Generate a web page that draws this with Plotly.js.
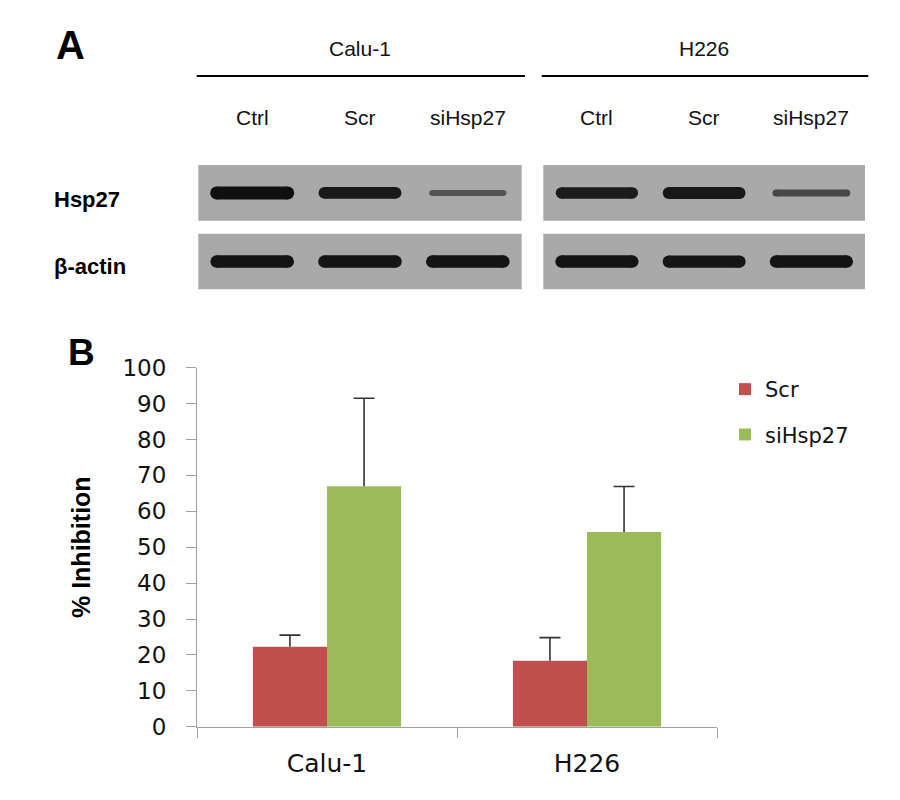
<!DOCTYPE html>
<html><head><meta charset="utf-8">
<script src="https://cdn.plot.ly/plotly-3.0.1.min.js"></script>
<style>html,body{margin:0;padding:0;background:#fff}#chart{width:900px;height:800px}</style>
</head><body><div id="chart"></div>
<script>
// ---------- Panel B data ----------
const cellLines = ['Calu-1', 'H226'];
const scrInhibition = [22.3, 18.4];
const scrError = [3.2, 6.4];
const siInhibition = [67.0, 54.2];
const siError = [24.5, 12.7];
const yTickVals = [0, 10, 20, 30, 40, 50, 60, 70, 80, 90, 100];

// ---------- Panel A data (relative band density per lane) ----------
const laneLabels = ['Ctrl', 'Scr', 'siHsp27'];
const blotRows = ['β-actin', 'Hsp27'];
const caluHsp27 = [1.0, 0.88, 0.3];
const caluActin = [0.95, 0.95, 0.95];
const h226Hsp27 = [0.85, 0.9, 0.4];
const h226Actin = [0.95, 0.92, 0.95];

const W = 900, H = 800;
const px = p => p / W;
const py = p => 1 - p / H;

const RED = '#c0504d', GREEN = '#9bbb59';
const AXC = '#a0a0a0';
const BARW = 0.285;

const traces = [];

traces.push({type: 'bar', name: 'Scr', x: cellLines, y: scrInhibition, width: BARW, offset: -BARW,
  marker: {color: RED}, legendgroup: 'a'});
traces.push({type: 'bar', name: 'siHsp27', x: cellLines, y: siInhibition, width: BARW, offset: 0,
  marker: {color: GREEN}, legendgroup: 'b'});

// upper (plus-only) error bars, drawn on an overlaid numeric axis matching the category axis
function errorBars(vals, errs, shift) {
  const xs = [], ys = [];
  vals.forEach((v, i) => { xs.push(i + shift, i + shift, null); ys.push(v, v + errs[i], null); });
  traces.push({type: 'scatter', mode: 'lines', x: xs, y: ys, xaxis: 'x4', yaxis: 'y3',
    line: {color: '#333333', width: 1.6}, showlegend: false, hoverinfo: 'skip'});
  traces.push({type: 'scatter', mode: 'markers', x: vals.map((v, i) => i + shift),
    y: vals.map((v, i) => v + errs[i]), xaxis: 'x4', yaxis: 'y3',
    marker: {symbol: 'line-ew', size: 15, color: '#333333', line: {color: '#333333', width: 1.6}},
    showlegend: false, hoverinfo: 'skip'});
}
errorBars(scrInhibition, scrError, -BARW / 2);
errorBars(siInhibition, siError, BARW / 2);

// blot bands
function bands(xa, rowIdx, dens) {
  dens.forEach((d, i) => {
    const t = 3 + 10 * d;
    const g = Math.round(166 - 150 * Math.sqrt(d));
    const c = `rgb(${g},${g},${g})`;
    traces.push({
      type: 'scatter', mode: 'lines+markers', xaxis: xa, yaxis: 'y2',
      x: [i + 1 - 0.33, i + 1 + 0.33], y: [rowIdx, rowIdx],
      line: {color: c, width: t}, marker: {color: c, size: t, line: {width: 0}},
      showlegend: false, hoverinfo: 'skip', cliponaxis: false
    });
  });
}
bands('x2', 1, caluHsp27);
bands('x2', 0, caluActin);
bands('x3', 1, h226Hsp27);
bands('x3', 0, h226Actin);

const shapes = [];
['x2', 'x3'].forEach(xa => {
  blotRows.forEach((r, ri) => {
    shapes.push({type: 'rect', xref: xa + ' domain', x0: 0, x1: 1, yref: 'y2',
      y0: ri - 0.407, y1: ri + 0.407, fillcolor: '#a9a9a9', line: {width: 0}, layer: 'below'});
  });
  shapes.push({type: 'line', xref: xa + ' domain', x0: -0.005, x1: 1.01, yref: 'paper',
    y0: py(76), y1: py(76), line: {color: '#000', width: 2}});
});

const annotations = [];
const fA = {family: 'Liberation Sans, Arial, sans-serif', size: 21, color: '#111'};
const fBold = s => ({family: 'Liberation Sans, Arial, sans-serif', size: s, weight: 'bold', color: '#000'});
annotations.push({text: 'A', x: px(70), y: py(45), xref: 'paper', yref: 'paper', xanchor: 'center',
  yanchor: 'middle', showarrow: false, font: fBold(40)});
annotations.push({text: 'B', x: px(81), y: py(353), xref: 'paper', yref: 'paper', xanchor: 'center',
  yanchor: 'middle', showarrow: false, font: fBold(37)});
[['x2', cellLines[0]], ['x3', cellLines[1]]].forEach(([xa, name]) => {
  annotations.push({text: name, xref: xa + ' domain', x: 0.5, xanchor: 'center', yref: 'paper', y: py(48),
    yanchor: 'middle', showarrow: false, font: fA});
  laneLabels.forEach((l, i) => {
    annotations.push({text: l, xref: xa, x: i + 1, xanchor: 'center', yref: 'paper', y: py(117),
      yanchor: 'middle', showarrow: false, font: fA});
  });
});
const rowLabelY = [266, 199];
blotRows.forEach((r, ri) => {
  annotations.push({text: r, xref: 'paper', x: px(52), xanchor: 'left', yref: 'paper', y: py(rowLabelY[ri]),
    yanchor: 'middle', showarrow: false, font: fBold(22)});
});

const layout = {
  width: W, height: H,
  margin: {l: 0, r: 0, t: 0, b: 0},
  paper_bgcolor: '#fff', plot_bgcolor: 'rgba(0,0,0,0)',
  font: {family: 'DejaVu Sans, sans-serif', color: '#111'},
  barmode: 'overlay',
  showlegend: true,
  legend: {x: px(725), y: py(369), xanchor: 'left', yanchor: 'top',
    font: {family: 'DejaVu Sans, sans-serif', size: 21, color: '#111'},
    traceorder: 'grouped', tracegroupgap: 15, bgcolor: 'rgba(0,0,0,0)'},
  xaxis: {domain: [px(197), px(717)], type: 'category', range: [-0.5, 1.5],
    tickson: 'boundaries', ticks: 'outside', ticklen: 10, tickcolor: AXC,
    showline: true, linecolor: AXC, linewidth: 1, showgrid: false, zeroline: false,
    tickfont: {family: 'DejaVu Sans, sans-serif', size: 25, color: '#111'},
    ticklabelstandoff: 14, anchor: 'y', fixedrange: true},
  yaxis: {domain: [py(726.7), py(367.7)], range: [0, 100], tickvals: yTickVals,
    ticks: 'outside', ticklen: 10, tickcolor: AXC, showline: true, linecolor: AXC,
    linewidth: 1, showgrid: false, zeroline: false,
    tickfont: {family: 'DejaVu Sans, sans-serif', size: 23, color: '#111'},
    ticklabelstandoff: 15, anchor: 'x', fixedrange: true,
    title: {text: '% Inhibition', standoff: 24,
      font: fBold(25)}},
  xaxis4: {type: 'linear', range: [-0.5, 1.5], overlaying: 'x', anchor: 'y3', visible: false, fixedrange: true},
  yaxis3: {range: [0, 100], overlaying: 'y', anchor: 'x4', visible: false, fixedrange: true},
  xaxis2: {domain: [px(198.3), px(521.7)], range: [0.5, 3.5], anchor: 'y2', visible: false, fixedrange: true},
  xaxis3: {domain: [px(543.3), px(865)], range: [0.5, 3.5], anchor: 'y2', visible: false, fixedrange: true},
  yaxis2: {domain: [py(289.5), py(165)], range: [-0.407, 1.407], anchor: 'x2', visible: false, fixedrange: true},
  shapes: shapes,
  annotations: annotations
};

Plotly.newPlot('chart', traces, layout, {displayModeBar: false, staticPlot: true});
</script>
</body></html>
